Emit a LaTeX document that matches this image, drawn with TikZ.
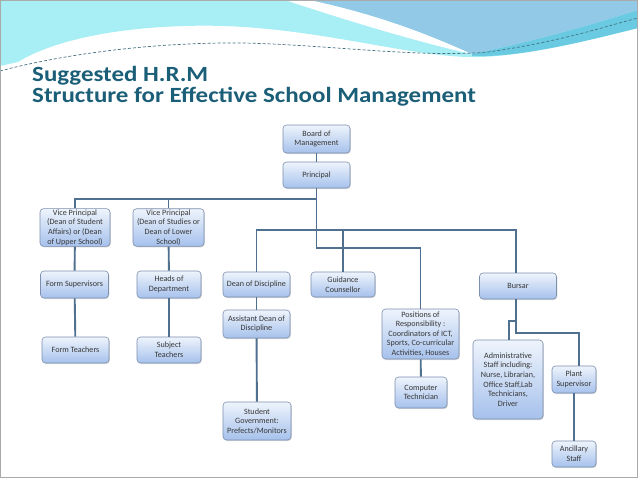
\documentclass[tikz,border=0pt]{standalone}
\usepackage{fontspec}
\setmainfont{Carlito}
\newfontfamily\ttlfont[FakeStretch=1.15]{Carlito}
\usetikzlibrary{shadows}
\definecolor{titlec}{RGB}{27,94,120}
\definecolor{linec}{RGB}{79,112,143}
\definecolor{boxtop}{RGB}{238,244,252}
\definecolor{boxbot}{RGB}{166,193,236}
\definecolor{boxdraw}{RGB}{125,143,174}
\definecolor{cyanbg}{RGB}{168,238,245}
\definecolor{bluebg}{RGB}{146,201,230}
\definecolor{midcyan}{RGB}{105,202,226}
\definecolor{dashc}{RGB}{70,115,130}
\definecolor{txtc}{RGB}{55,55,55}
\definecolor{framec}{RGB}{170,170,170}
\begin{document}
\begin{tikzpicture}[x=1pt,y=-1pt,
  box/.style={draw=boxdraw, line width=0.6pt, rounded corners=3.5pt, top color=boxtop, bottom color=boxbot, text=txtc, font=\fontsize{8.1}{9.6}\selectfont, align=center, inner sep=1pt, drop shadow={shadow xshift=0.8pt, shadow yshift=-1pt, opacity=0.3}},
  sz/.style 2 args={minimum width=#1pt, minimum height=#2pt},
  conn/.style={draw=linec, line width=1.9pt, line join=miter},
  ttl/.style={anchor=base west, inner sep=0pt, align=left, font=\ttlfont\fontsize{21.7}{21}\selectfont\bfseries, text=titlec}
]
\useasboundingbox (0,0) rectangle (638,479);
\fill[white] (0,0) rectangle (638,479);
% top decoration
\fill[cyanbg] (0,0) -- (638,0) -- (638,28)
  .. controls (590,40) and (520,58) .. (470,57)
  .. controls (400,56) and (300,22) .. (185,26)
  .. controls (110,28) and (50,42) .. (18,62) -- (0,66) -- cycle;
\fill[white] (285,0) -- (310,0) .. controls (380,15) and (430,35) .. (472,54)
  .. controls (430,45) and (360,25) .. (285,0) -- cycle;
\fill[midcyan] (472,54) .. controls (540,40) and (600,22) .. (638,10) -- (638,28)
  .. controls (590,40) and (520,58) .. (472,56) -- cycle;
\fill[bluebg] (310,0) -- (638,0) -- (638,10) .. controls (600,22) and (540,40) .. (472,54)
  .. controls (430,35) and (380,15) .. (310,0) -- cycle;
\draw[dashc, line width=0.7pt, dash pattern=on 3pt off 2pt]
  (0,71) .. controls (60,55) and (150,42) .. (244,43)
  .. controls (330,45) and (420,58) .. (488,52)
  .. controls (560,42) and (610,25) .. (638,18);
\draw[framec, line width=1.5pt] (0.5,0.5) rectangle (637.5,477.5);
% title
\node[ttl] (title) at (32,102.5) {Suggested H.R.M\\Structure for Effective School Management};
% boxes
\node[box, sz={67}{28}] (bom) at (316.5,139) {Board of\\Management};
\node[box, sz={67}{26}] (prin) at (316.5,175) {Principal};
\node[box, sz={70}{35}] (vp1) at (75,227.5) {Vice Principal\\(Dean of Student\\Affairs) or (Dean\\of Upper School)};
\node[box, sz={71}{35}] (vp2) at (168.5,227.5) {Vice Principal\\(Dean of Studies or\\Dean of Lower\\School)};
\node[box, sz={68}{27}] (fs) at (74.5,284.5) {Form Supervisors};
\node[box, sz={64}{27}] (hod) at (169,284.5) {Heads of\\Department};
\node[box, sz={67}{26}] (ft) at (75.5,350) {Form Teachers};
\node[box, sz={64}{26}] (st) at (169,350) {Subject\\Teachers};
\node[box, sz={67}{25}] (dod) at (256.5,284.5) {Dean of Discipline};
\node[box, sz={64}{25}] (gc) at (343,284.5) {Guidance\\Counsellor};
\node[box, sz={67}{28}] (adod) at (256.5,324) {Assistant Dean of\\Discipline};
\node[box, sz={68}{38}] (sg) at (257,421) {Student\\Government:\\Prefects/Monitors};
\node[box, sz={77}{26}] (bursar) at (518,286) {Bursar};
\node[box, sz={77}{50}] (por) at (420.5,334) {Positions of\\Responsibility :\\Coordinators of ICT,\\Sports, Co-curricular\\Activities, Houses};
\node[box, sz={52}{31}] (ct) at (421,392.5) {Computer\\Technician};
\node[box, sz={70}{79}] (admin) at (508,379.5) {Administrative\\Staff including:\\Nurse, Librarian,\\Office Staff,Lab\\Technicians,\\Driver};
\node[box, sz={44}{27}] (ps) at (574,379.5) {Plant\\Supervisor};
\node[box, sz={44}{26}] (anc) at (574,454) {Ancillary\\Staff};
% connector helper coordinates
\coordinate (h1) at (0,199);
\coordinate (h2) at (0,230);
\coordinate (h3) at (0,248);
\coordinate (b1) at (516,321);
\coordinate (b2) at (509,321);
\coordinate (b3) at (516,333);
\coordinate (b4) at (579,333);
% connectors
\draw[conn] (bom) -- (prin);
\draw[conn] (prin.south) -- (prin.south |- h3) -| (por.north);
\draw[conn] (vp1.north) |- (prin.south |- h1);
\draw[conn] (vp2.north) -- (vp2.north |- h1);
\draw[conn] (dod.north) |- (h2 -| b1) -- (b1 |- bursar.north);
\draw[conn] (gc.north) -- (gc.north |- h2);
\draw[conn] (vp1) -- (fs);
\draw[conn] (fs) -- (ft);
\draw[conn] (vp2) -- (hod);
\draw[conn] (hod) -- (st);
\draw[conn] (dod) -- (adod);
\draw[conn] (adod) -- (sg);
\draw[conn] (por) -- (ct);
\draw[conn] (b1 |- bursar.south) -- (b1) -- (b3) -- (b4) -- (b4 |- ps.north);
\draw[conn] (b1) -- (b2) -- (b2 |- admin.north);
\draw[conn] (ps) -- (anc);
\end{tikzpicture}
\end{document}
